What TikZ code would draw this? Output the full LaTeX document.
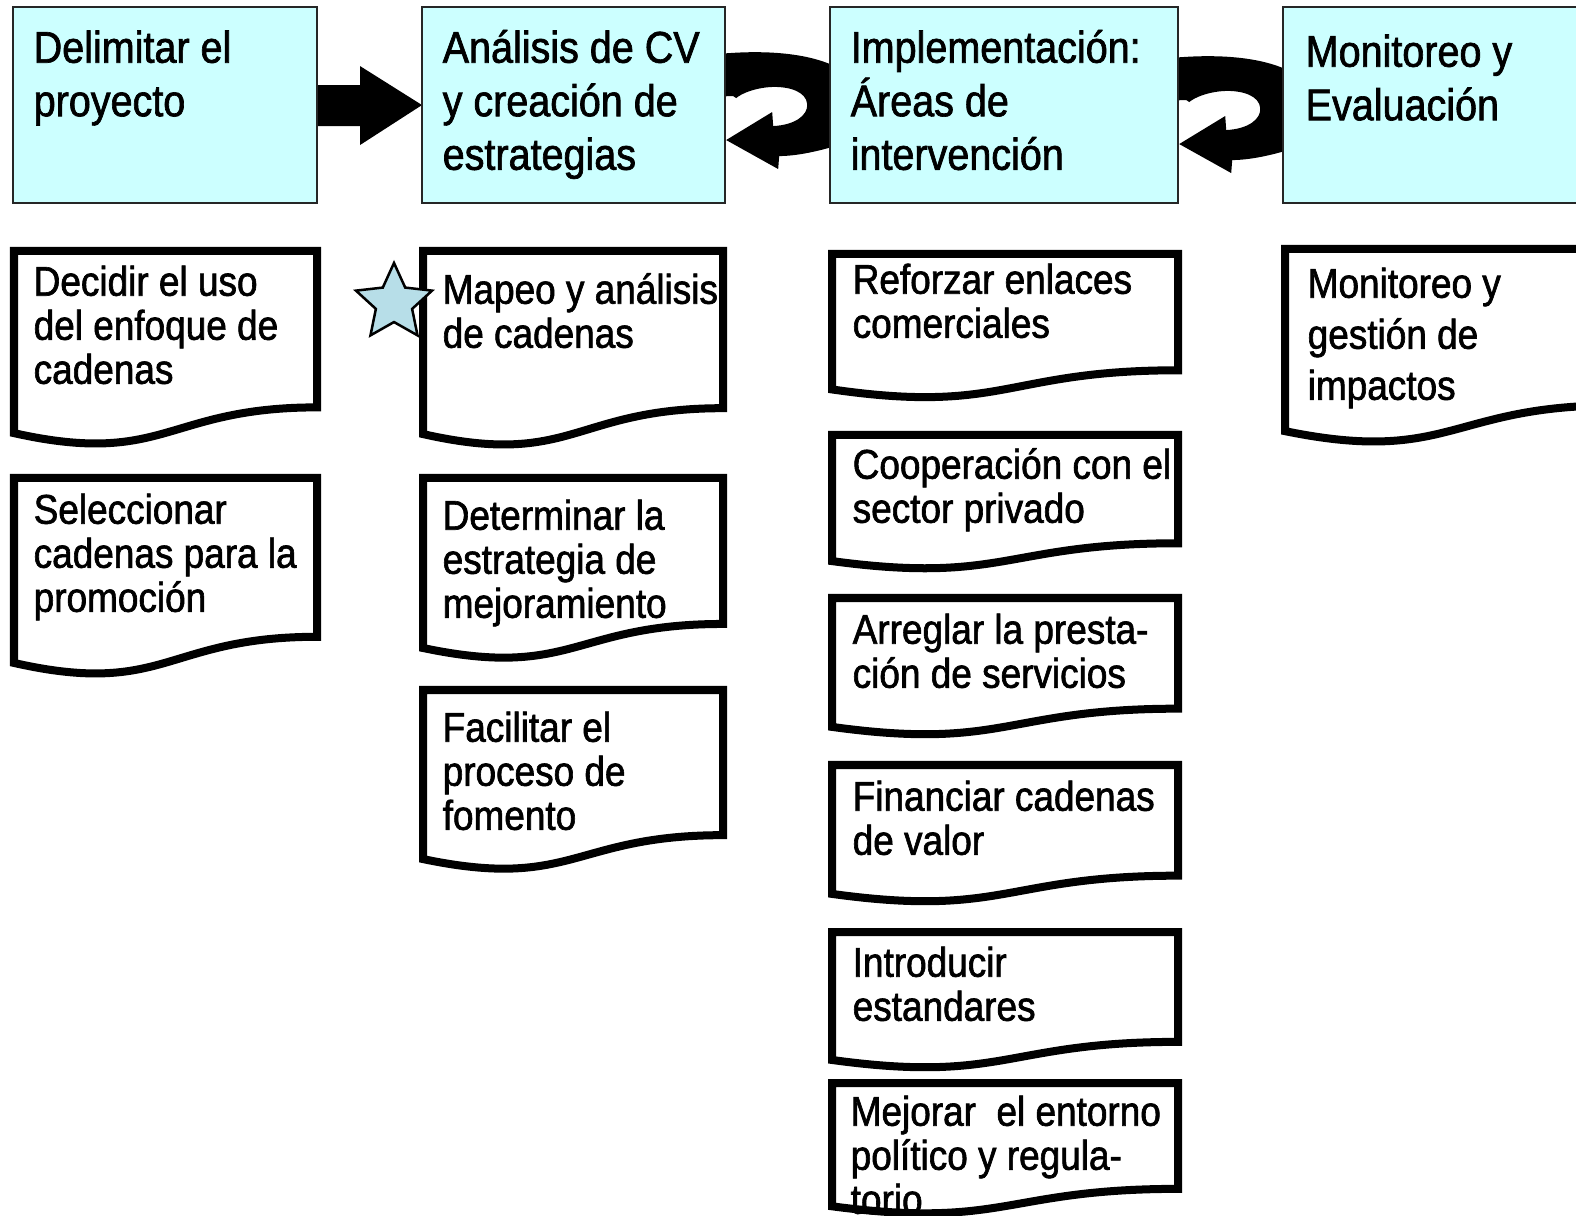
\documentclass[tikz,border=0pt]{standalone}
\usepackage{fontspec}
\setmainfont{Liberation Sans}[FakeStretch=0.89, FakeBold=1.5]
\usepackage{tikz}
\usetikzlibrary{shapes.geometric, calc, backgrounds}
\definecolor{boxcyan}{RGB}{204,255,255}
\definecolor{starblue}{RGB}{183,222,232}
\newcommand{\fl}{\rule{0pt}{1em}}
\newcommand{\tightlines}{\lineskiplimit-100pt\relax}
% document shape: left, top, width, height
\newcommand{\docshape}[4]{%
	\draw[docline] (#1,#2) -- (#1+#3,#2) -- (#1+#3,#2+0.802*#4)
		.. controls (#1+0.5*#3,#2+0.802*#4) and (#1+0.5*#3,#2+1.107*#4) .. (#1,#2+0.934*#4) -- cycle;}
% round arrow between two stages
\newcommand{\cyclearrow}[1]{%
	\fill[shift={#1}] (-25,-49) .. controls (35,-57) and (90,-53) .. (120,-33)
		.. controls (150,-10) and (145,30) .. (110,41)
		.. controls (90,47) and (70,51) .. (54,51)
		-- (53,64) -- (1,35) -- (47,7) -- (48,21)
		.. controls (70,20) and (83,10) .. (82,-1)
		.. controls (81,-13) and (65,-19) .. (45,-18)
		.. controls (30,-17) and (17,-12) .. (11,-7)
		-- (8,-9) -- (-25,-8) -- cycle;}

\begin{document}
\begin{tikzpicture}[x=0.01cm, y=-0.01cm,
	topbox/.style={draw=black!85, fill=boxcyan, line width=0.02cm, minimum height=1.96cm, anchor=north west, inner sep=0pt, outer sep=0pt},
	docline/.style={line width=0.08cm, fill=white},
	toptext/.style={anchor=north west, inner sep=0pt, align=left, font={\fontsize{12.63pt}{15.22pt}\selectfont\tightlines}},
	doctext/.style={anchor=north west, inner sep=0pt, align=left, font={\fontsize{11.81pt}{12.52pt}\selectfont\tightlines}}]

	\useasboundingbox (0,0) rectangle (1576,1216);
	\clip (0,0) rectangle (1576,1216);

	% stages
	\node[topbox, minimum width=3.04cm] (box1) at (13,7) {};
	\node[topbox, minimum width=3.03cm] (box2) at (422,7) {};
	\node[topbox, minimum width=3.48cm] (box3) at (830,7) {};
	\node[topbox, minimum width=4cm] (box4) at (1283,7) {};

	% arrows between the stages
	\begin{scope}[on background layer]
		\fill (box2.west) -- ++(-62,-39) -- ++(0,19) -- ++(-70,0) -- ++(0,41) -- ++(70,0) -- ++(0,19) -- cycle;
		\cyclearrow{(box2.east)}
		\cyclearrow{($(box3.east)+(0,4)$)}
	\end{scope}

	\node[toptext] (t1) at (33,17.6) {\fl Delimitar el\\proyecto};
	\node[toptext] (t2) at (442,17.6) {\fl Análisis de CV\\y creación de\\estrategias};
	\node[toptext] (t3) at (850,17.6) {\fl Implementación:\\Áreas de\\intervención};
	\node[toptext] (t4) at (1305,21.6) {\fl Monitoreo y\\Evaluación};

	% column 1
	\docshape{14}{251}{303}{195}
	\docshape{14}{478}{303}{198}
	\node[doctext] (d1) at (33,253.5) {\fl Decidir el uso\\del enfoque de\\cadenas};
	\node[doctext] (d2) at (33,481.5) {\fl Seleccionar\\cadenas para la\\promoción};

	% column 2
	\docshape{423}{251}{300}{196}
	\docshape{423}{478}{300}{182}
	\docshape{423}{690}{300}{181}
	\node[doctext] (d3) at (442,261.5) {\fl Mapeo y análisis\\de cadenas};
	\node[doctext] (d4) at (442,487.5) {\fl Determinar la\\estrategia de\\mejoramiento};
	\node[doctext] (d5) at (442,699.5) {\fl Facilitar el\\proceso de\\fomento};
	\node[star, star points=5, star point ratio=2.1, minimum size=0.8cm, inner sep=0pt,
		draw, fill=starblue, line width=0.025cm] (star) at (394,303) {};

	% column 3
	\docshape{832}{254}{346}{145}
	\docshape{832}{435}{346}{135}
	\docshape{832}{598}{346}{138}
	\docshape{832}{765}{346}{138}
	\docshape{832}{932}{346}{137}
	\docshape{832}{1083}{346}{132}
	\node[doctext] (d6) at (852,251.5) {\fl Reforzar enlaces\\comerciales};
	\node[doctext] (d7) at (852,436.5) {\fl Cooperación con el\\sector privado};
	\node[doctext] (d8) at (852,601.5) {\fl Arreglar la presta-\\ción de servicios};
	\node[doctext] (d9) at (852,768.5) {\fl Financiar cadenas\\de valor};
	\node[doctext] (d10) at (852,934.5) {\fl Introducir\\estandares};
	\node[doctext] (d11) at (850,1083.5) {\fl Mejorar\ \ el entorno\\político y regula-\\torio};

	% column 4
	\docshape{1285}{249}{330}{195}
	\node[doctext, font={\fontsize{11.81pt}{14.51pt}\selectfont\tightlines}] (d12) at (1307,255.5) {\fl Monitoreo y\\gestión de\\impactos};

\end{tikzpicture}
\end{document}
